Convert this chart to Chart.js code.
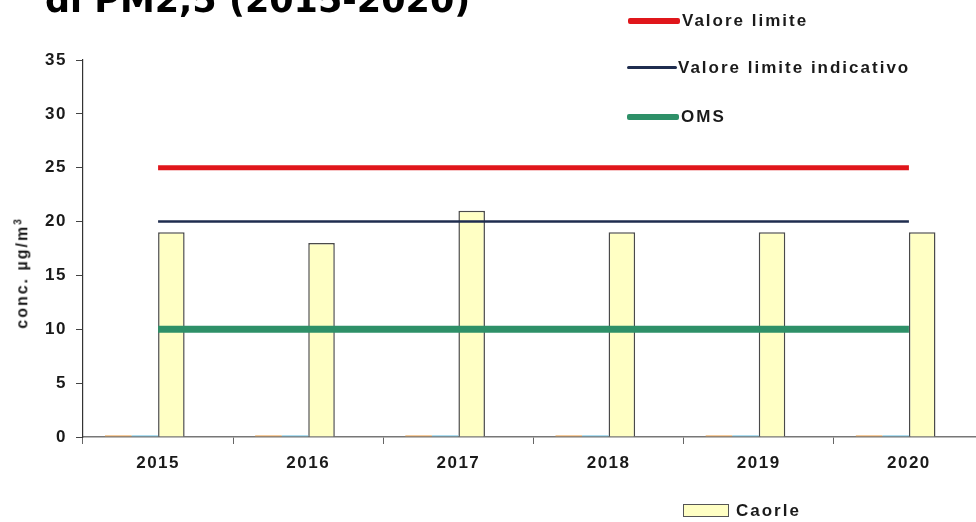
<!DOCTYPE html>
<html>
<head>
<meta charset="utf-8">
<script src="https://cdn.jsdelivr.net/npm/chart.js@4/dist/chart.umd.min.js"></script>
<style>
  html, body { margin: 0; padding: 0; background: #fff; overflow: hidden; width: 976px; height: 522px; }
  #wrap { position: relative; width: 984px; height: 522px; }
  #chartBox { position: absolute; left: 0; top: 0; width: 984px; height: 522px; }
  .txt { position: absolute; font-family: "Liberation Sans", Arial, sans-serif; font-weight: bold; color: #1a1a1a; white-space: nowrap; }
  #title { left: 45px; top: -17px; font-family: "DejaVu Sans", Verdana, sans-serif; font-size: 35px; line-height: 35px; color: #000; }
  .lg { font-size: 17px; letter-spacing: 2px; line-height: 20px; }
  .ln { position: absolute; border-radius: 2px; }
  #ytitle { left: 22px; top: 274px; font-size: 16px; letter-spacing: 2px; transform: translate(-50%, -50%) rotate(-90deg); }
  #ytitle sup { font-size: 10px; letter-spacing: 0; }
  #cbox { position: absolute; left: 683px; top: 504px; width: 44px; height: 11px; border: 1.5px solid #555; background: #ffffc4; }
</style>
</head>
<body>
<div id="wrap">
  <div id="chartBox"><canvas id="c"></canvas></div>
  <div id="title" class="txt">di PM2,5 (2015-2020)</div>
  <div class="ln" style="left:628px;top:18px;width:52px;height:6px;background:#e0161b;"></div>
  <div class="txt lg" style="left:682px;top:11px;">Valore limite</div>
  <div class="ln" style="left:627px;top:66px;width:50px;height:3px;background:#1f2d4f;"></div>
  <div class="txt lg" style="left:678px;top:58px;">Valore limite indicativo</div>
  <div class="ln" style="left:627px;top:114px;width:52px;height:6px;background:#2e9068;"></div>
  <div class="txt lg" style="left:681px;top:107px;">OMS</div>
  <div id="ytitle" class="txt">conc. µg/m<sup>3</sup></div>
  <div id="cbox"></div>
  <div class="txt lg" style="left:736px;top:501px;">Caorle</div>
</div>
<script>
const years = ['2015', '2016', '2017', '2018', '2019', '2020'];
const caorle = [19, 18, 21, 19, 19, 19];
const otherStation1 = [0, 0, 0, 0, 0, 0];
const otherStation2 = [0, 0, 0, 0, 0, 0];
const otherStation3 = [0, 0, 0, 0, 0, 0];
const valoreLimite = [25, 25, 25, 25, 25, 25];
const valoreLimiteIndicativo = [20, 20, 20, 20, 20, 20];
const oms = [10, 10, 10, 10, 10, 10];
const yTicks = [0, 5, 10, 15, 20, 25, 30, 35];

const spacingPlugin = {
  id: 'spacing',
  beforeDraw(chart) { chart.ctx.letterSpacing = '1.5px'; }
};

new Chart(document.getElementById('c'), {
  type: 'bar',
  data: {
    labels: years,
    datasets: [
      { label: '', data: otherStation1, backgroundColor: 'rgba(240,170,90,0.6)', borderWidth: 0, minBarLength: 2, order: 2 },
      { label: '', data: otherStation2, backgroundColor: 'rgba(120,200,230,0.6)', borderWidth: 0, minBarLength: 2, order: 2 },
      { label: 'Caorle', data: caorle, backgroundColor: '#ffffc4', borderColor: '#4a4a4a', borderWidth: 1.5, borderSkipped: 'bottom', order: 2 },
      { label: '', data: otherStation3, backgroundColor: 'rgba(200,200,200,0.5)', borderWidth: 0, order: 2 },
      { type: 'line', label: 'Valore limite', data: valoreLimite, borderColor: '#e0161b', borderWidth: 5, pointRadius: 0, fill: false, order: 1 },
      { type: 'line', label: 'Valore limite indicativo', data: valoreLimiteIndicativo, borderColor: '#1f2d4f', borderWidth: 2.5, pointRadius: 0, fill: false, order: 1 },
      { type: 'line', label: 'OMS', data: oms, borderColor: '#2e9068', borderWidth: 7, pointRadius: 0, fill: false, order: 1 }
    ]
  },
  options: {
    responsive: true,
    maintainAspectRatio: false,
    animation: false,
    events: [],
    layout: { padding: { left: 0, right: 0, top: 60, bottom: 0 } },
    datasets: { bar: { categoryPercentage: 0.707, barPercentage: 1 } },
    plugins: { legend: { display: false }, tooltip: { enabled: false }, title: { display: false } },
    scales: {
      x: {
        offset: true,
        grid: { display: true, offset: true, drawOnChartArea: false, drawTicks: true, tickLength: 7, color: '#666', lineWidth: 1 },
        border: { display: true, color: '#777', width: 1.5 },
        ticks: { color: '#1a1a1a', font: { family: '"Liberation Sans", Arial, sans-serif', size: 17, weight: 'bold' }, padding: 9, maxRotation: 0 },
        afterFit(s) { s.height = 85; }
      },
      y: {
        min: 0, max: 35,
        afterBuildTicks(s) { s.ticks = yTicks.map(v => ({ value: v })); },
        grid: { display: true, drawOnChartArea: false, drawTicks: true, tickLength: 7, color: '#444' },
        border: { display: true, color: '#333', width: 1.2 },
        ticks: { color: '#1a1a1a', font: { family: '"Liberation Sans", Arial, sans-serif', size: 17, weight: 'bold' }, padding: 9 },
        afterFit(s) { s.width = 83; }
      }
    }
  },
  plugins: [spacingPlugin]
});
</script>
</body>
</html>
